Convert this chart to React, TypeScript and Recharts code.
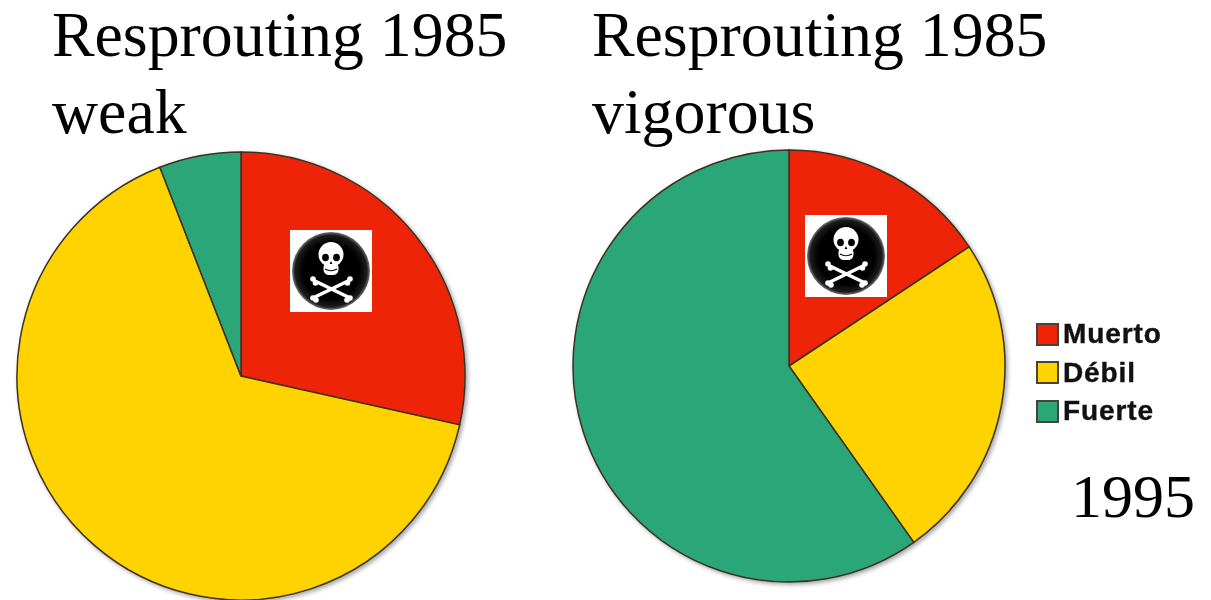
import React from "react";
import { PieChart, Pie, Cell, Legend } from "recharts";

const categories = ["Muerto", "Débil", "Fuerte"];
const weakValues = [28.5, 65.6, 5.9];
const vigorousValues = [15.7, 24.5, 59.8];
const colors = ["#ee2408", "#ffd300", "#2ba678"];
const titleTop = "Resprouting 1985";
const titleWeak = "weak";
const titleVigorous = "vigorous";
const yearLabel = "1995";

const weakData = categories.map((name, i) => ({ name, value: weakValues[i] }));
const vigorousData = categories.map((name, i) => ({ name, value: vigorousValues[i] }));

const serif = "'Liberation Serif', serif";

function Skull({ x, y, id }: { x: number; y: number; id: string }) {
  return (
    <g transform={`translate(${x},${y})`}>
      <defs>
        <radialGradient id={id}>
          <stop offset="0.72" stopColor="#000" />
          <stop offset="0.92" stopColor="#1c1c1c" />
          <stop offset="1" stopColor="#777" />
        </radialGradient>
      </defs>
      <rect width="82" height="82" fill="#fff" />
      <circle cx="41" cy="41" r="39" fill={`url(#${id})`} />
      <g stroke="#fff" strokeWidth="3.6" strokeLinecap="round">
        <line x1="25" y1="51" x2="58" y2="67" />
        <line x1="58" y1="51" x2="25" y2="67" />
      </g>
      <g fill="#fff">
        <circle cx="23" cy="49" r="2.8" />
        <circle cx="25.5" cy="53" r="2.8" />
        <circle cx="60" cy="49" r="2.8" />
        <circle cx="57.5" cy="53" r="2.8" />
        <circle cx="23" cy="68" r="2.8" />
        <circle cx="26" cy="70" r="2.8" />
        <circle cx="60" cy="68" r="2.8" />
        <circle cx="57" cy="70" r="2.8" />
        <ellipse cx="41" cy="24.5" rx="12.5" ry="12.5" />
        <rect x="33.5" y="32" width="15" height="13" rx="5.5" />
      </g>
      <ellipse cx="35.5" cy="27.5" rx="3.4" ry="3.8" fill="#000" />
      <ellipse cx="46.5" cy="27.5" rx="3.4" ry="3.8" fill="#000" />
      <path d="M41 31 l-1.4 3 h2.8 z" fill="#000" />
      <path d="M35 39 q6 3.5 12 0" stroke="#000" strokeWidth="1.1" fill="none" />
    </g>
  );
}

function LegendBox() {
  return (
    <div style={{ display: "flex", flexDirection: "column", gap: 0 }}>
      {categories.map((name, i) => (
        <div key={name} style={{ display: "flex", alignItems: "center", height: 38.5 }}>
          <span
            style={{
              display: "inline-block",
              width: 19,
              height: 19,
              background: colors[i],
              border: "2px solid #4a4238",
              marginRight: 4,
              boxSizing: "content-box",
            }}
          />
          <span
            style={{
              fontFamily: "'Liberation Sans', Arial, sans-serif",
              fontWeight: 700,
              fontSize: 28,
              color: "#111",
              letterSpacing: 0.9,
              WebkitTextStroke: "0.4px #111",
              filter: "blur(0.5px)",
            }}
          >
            {name}
          </span>
        </div>
      ))}
    </div>
  );
}

export default function App() {
  return (
    <div style={{ position: "absolute", left: 0, top: 0, width: 1211, height: 600 }}>
      <style>{`.recharts-pie{filter:drop-shadow(2px 2px 2px rgba(90,90,90,.55));}`}</style>
      <PieChart width={1211} height={600} margin={{ top: 0, right: 0, bottom: 0, left: 0 }}>
        <Pie
          data={weakData}
          dataKey="value"
          nameKey="name"
          cx={241}
          cy={376}
          outerRadius={224}
          startAngle={90}
          endAngle={-270}
          stroke="#3d3220"
          strokeWidth={1.5}
          isAnimationActive={false}
          legendType="none"
        >
          {weakData.map((d, i) => (
            <Cell key={d.name} fill={colors[i]} />
          ))}
        </Pie>
        <Pie
          data={vigorousData}
          dataKey="value"
          nameKey="name"
          cx={789}
          cy={366}
          outerRadius={216}
          startAngle={90}
          endAngle={-270}
          stroke="#3d3220"
          strokeWidth={1.5}
          isAnimationActive={false}
          legendType="none"
        >
          {vigorousData.map((d, i) => (
            <Cell key={d.name} fill={colors[i]} />
          ))}
        </Pie>
        <Legend
          content={<LegendBox />}
          wrapperStyle={{ position: "absolute", left: 1036, top: 315, width: 170, bottom: "auto" }}
        />
        <g fontFamily={serif} fill="#000">
          <text x={52} y={56} fontSize={63.8}>{titleTop}</text>
          <text x={52} y={133} fontSize={63.8}>{titleWeak}</text>
          <text x={592} y={56} fontSize={63.8}>{titleTop}</text>
          <text x={592} y={133} fontSize={63.8}>{titleVigorous}</text>
          <text x={1071} y={517} fontSize={62}>{yearLabel}</text>
        </g>
      </PieChart>
      <svg
        width={1211}
        height={600}
        style={{ position: "absolute", left: 0, top: 0, pointerEvents: "none" }}
      >
        <Skull x={290} y={230} id="skullA" />
        <Skull x={805} y={215} id="skullB" />
      </svg>
    </div>
  );
}
